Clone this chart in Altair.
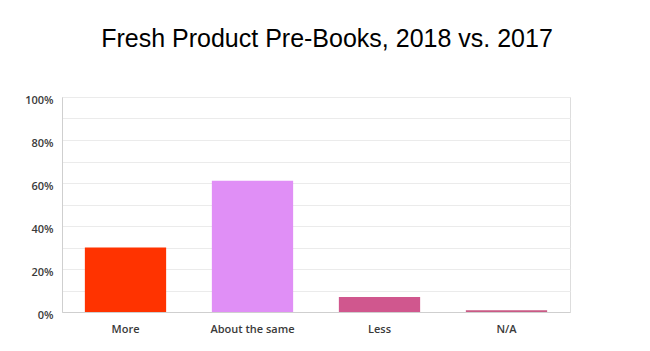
import altair as alt
import pandas as pd

categories = ["More", "About the same", "Less", "N/A"]
values = [0.30, 0.61, 0.07, 0.008]
colors = ["#FF3300", "#E08FF6", "#D0578E", "#C95A85"]

df = pd.DataFrame({"category": categories, "value": values})

grid_vals = [i / 10 for i in range(11)]

chart = alt.Chart(df).mark_bar().encode(
    x=alt.X("category:N", sort=categories,
            scale=alt.Scale(paddingInner=0.36, paddingOuter=0.18),
            axis=alt.Axis(title=None, labelAngle=0, ticks=False, labelPadding=11,
                          labelFont="Open Sans", labelFontWeight=600, labelFontSize=11,
                          labelColor="#3a3a3a", domainColor="#cfcfcf", grid=False)),
    y=alt.Y("value:Q", scale=alt.Scale(domain=[0, 1], nice=False),
            axis=alt.Axis(title=None, values=grid_vals, ticks=False, labelPadding=9,
                          labelExpr="round(datum.value*100) % 20 == 0 ? format(datum.value, '.0%') : ''",
                          labelFont="Open Sans", labelFontWeight=600, labelFontSize=11,
                          labelColor="#3a3a3a", domainColor="#cfcfcf",
                          gridColor="#ebebeb", labelBaseline="top", labelOffset=-3)),
    color=alt.Color("category:N", sort=categories,
                    scale=alt.Scale(domain=categories, range=colors), legend=None),
).properties(
    width=508, height=215,
    title=alt.TitleParams("Fresh Product Pre-Books, 2018 vs. 2017", font="Liberation Sans",
                          fontSize=25, fontWeight="normal", color="#000000",
                          anchor="middle", offset=42, dx=11),
    autosize=alt.AutoSizeParams(type="none"),
    padding={"left": 62, "top": 97, "right": 80, "bottom": 39},
).configure_view(stroke=None).configure(background="white")

chart.save("out.html", embed_options={"renderer": "svg", "actions": False})
